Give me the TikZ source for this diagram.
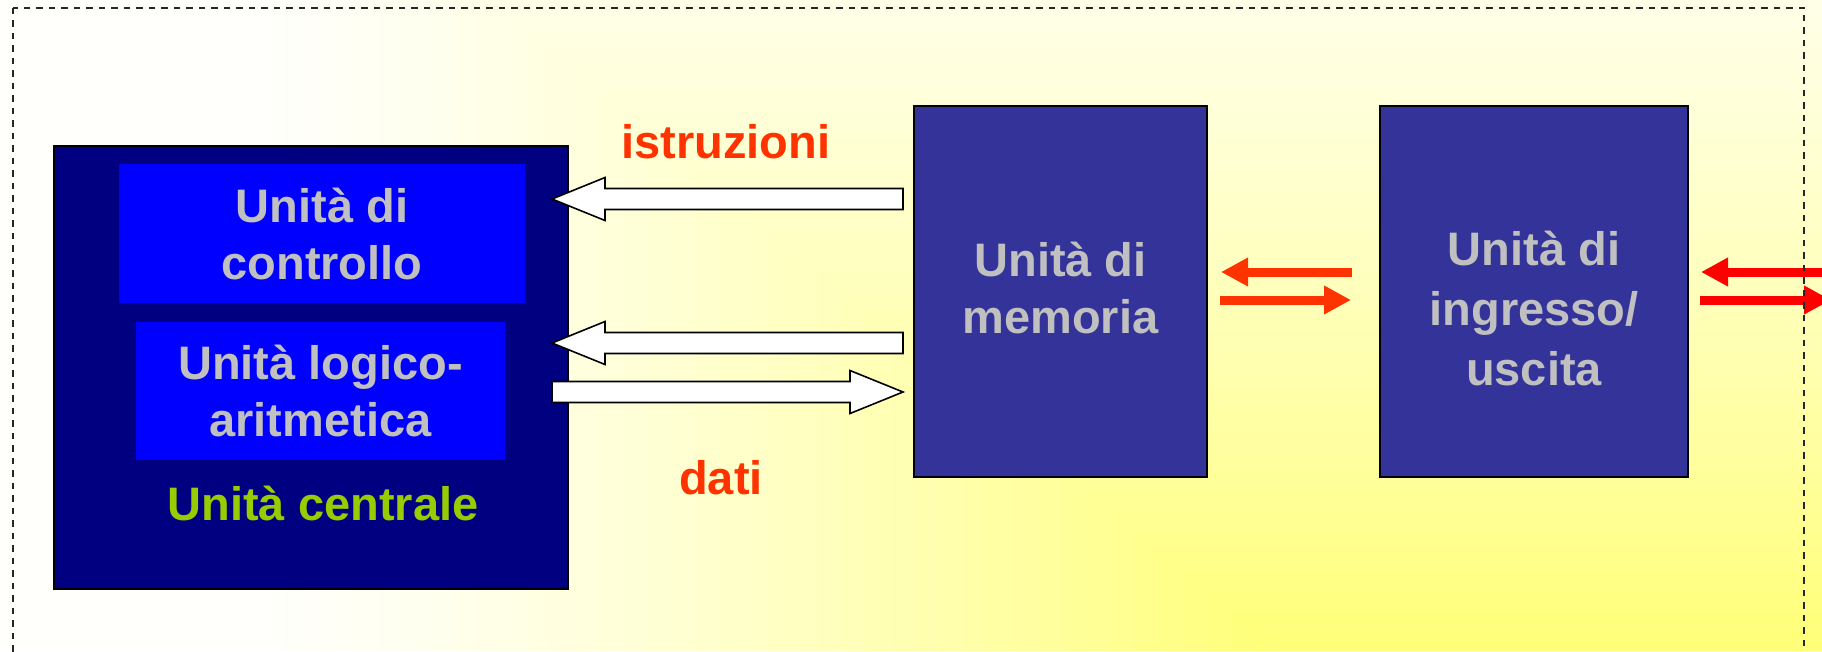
\documentclass[tikz,border=0pt]{standalone}
\usepackage{fontspec}
\setmainfont{Liberation Sans}
\usetikzlibrary{arrows.meta,calc,positioning}

\definecolor{cpublue}{HTML}{000080}
\definecolor{unitblue}{HTML}{0000FF}
\definecolor{boxblue}{HTML}{333399}
\definecolor{labelgray}{HTML}{C0C0C0}
\definecolor{cpugreen}{HTML}{99CC00}
\definecolor{flowred}{HTML}{FF3300}
\definecolor{ioRed}{HTML}{FF0000}
\definecolor{bgpale}{RGB}{255,255,252}
\definecolor{bgdeep}{RGB}{255,255,118}

\tikzset{
	big/.style={font=\bfseries\fontsize{47pt}{57pt}\selectfont},
	unit/.style={big, rectangle, inner sep=0pt, text=labelgray, align=center},
	block/.style={draw=black, fill=white, line width=1.6pt, line join=miter},
	bus/.style={line width=9pt, flowred, -{Triangle[length=27pt,width=27pt]}},
	frame/.style={black!85, line width=2pt, dash pattern=on 6.5pt off 6pt}
}

% white block arrow from #1 to #2 (horizontal)
\newcommand{\blockarrow}[2]{%
	\draw[block] let \p1=(#1), \p2=(#2), \n1={ifthenelse(\x2>\x1,1,-1)} in
		(\x1,{\y1+10.5pt}) -- ({\x2-(\n1)*53pt},{\y1+10.5pt}) -- ({\x2-(\n1)*53pt},{\y1+21.5pt})
		-- (\x2,\y2) -- ({\x2-(\n1)*53pt},{\y1-21.5pt}) -- ({\x2-(\n1)*53pt},{\y1-10.5pt})
		-- (\x1,{\y1-10.5pt}) -- cycle;}

\begin{document}
\begin{tikzpicture}[x=1pt, y=-1pt]
	\begin{scope}
	\clip (0,0) rectangle (1822,651);

	% background, pale at top left, yellow towards bottom right
	\fill[bgpale] (0,0) rectangle (1822,651);
	\foreach \w in {840,820,...,0} {
		\pgfmathsetmacro\shadepct{100*pow(1-\w/860,1.3)}
		\fill[bgdeep!\shadepct!bgpale] ({1280-1.217*\w}, {651-\w}) rectangle (1822,651);
	}

	% central unit
	\node[draw=black, line width=1.2pt, fill=cpublue, minimum width=514pt, minimum height=443pt] (cpu) at (311,367.5) {};
	\node[unit, fill=unitblue, minimum width=406pt, minimum height=139pt] (cu) at (322,233.5) {Unità di\\controllo};
	\node[unit, fill=unitblue, minimum width=369pt, minimum height=138pt] (alu) at (320.5,391) {Unità logico-\\aritmetica};
	\node[big, text=cpugreen, anchor=base] (cpulbl) at (323,520) {Unità centrale};

	% memory and i/o
	\node[draw=black, line width=2pt, fill=boxblue, minimum width=293pt, minimum height=371pt] (mem) at (1060.5,291.5) {};
	\node[unit] (memlbl) at ([yshift=4pt]mem.center) {Unità di\\memoria};
	\node[draw=black, line width=2.4pt, fill=boxblue, minimum width=308pt, minimum height=371pt] (io) at (1534,291.5) {};
	\node[unit, font=\bfseries\fontsize{47pt}{60pt}\selectfont] (iolbl) at ([yshift=-17pt]io.center) {Unità di\\ingresso/\\uscita};

	% instruction and data paths
	\coordinate (cpuI) at (552,199);
	\coordinate (memI) at (903,199);
	\coordinate (cpuD1) at (552,343);
	\coordinate (memD1) at (903,343);
	\coordinate (cpuD2) at (552,392);
	\coordinate (memD2) at (903,392);
	\blockarrow{memI}{cpuI}
	\blockarrow{memD1}{cpuD1}
	\blockarrow{cpuD2}{memD2}
	\node[big, text=flowred, anchor=base] (istr) at (726,158) {istruzioni};
	\node[big, text=flowred, anchor=base] (dati) at (721,494) {dati};

	% memory <-> i/o, i/o <-> outside
	\coordinate (memR1) at (1221,272);
	\coordinate (ioL1) at (1352,272);
	\coordinate (memR2) at (1220,300);
	\coordinate (ioL2) at (1351,300);
	\coordinate (ioR1) at (1701,272);
	\coordinate (extR1) at (1840,272);
	\coordinate (ioR2) at (1700,300);
	\coordinate (extR2) at (1831,300);
	\draw[bus] (ioL1) -- (memR1);
	\draw[bus] (memR2) -- (ioL2);
	\draw[bus, ioRed] (extR1) -- (ioR1);
	\draw[bus, ioRed] (ioR2) -- (extR2);

	\draw[frame] (12.6,7.5) rectangle (1804,700);
	\end{scope}
	\pgfresetboundingbox
	\useasboundingbox (0,0) rectangle (1822,651);
\end{tikzpicture}
\end{document}
